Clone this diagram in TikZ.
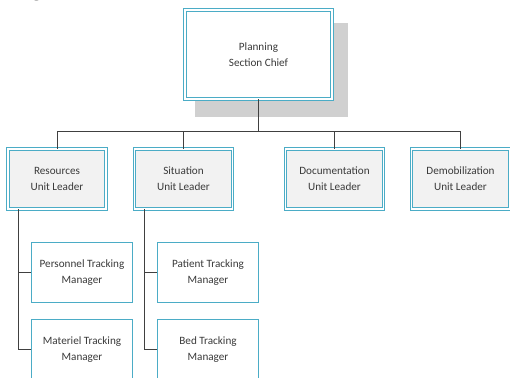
\documentclass[tikz,border=0pt]{standalone}
\usepackage{fontspec}
\setmainfont{Carlito}
\usetikzlibrary{calc,backgrounds}
\definecolor{cyanb}{HTML}{4BACC6}
\definecolor{shadowc}{HTML}{D0D0D0}
\definecolor{txt}{HTML}{3A3A3A}
\definecolor{conn}{HTML}{404040}
\tikzset{
  boxtext/.style={align=center, text=txt, font=\fontsize{11.2}{16}\selectfont, inner sep=0pt},
  dblbox/.style={boxtext, draw=cyanb, line width=0.9bp, double=white, double distance=1.4bp},
  chiefbox/.style={dblbox, fill=white, minimum width=147bp, minimum height=89bp},
  unitbox/.style={dblbox, fill=black!5, minimum width=98bp, minimum height=60bp},
  mgrbox/.style={boxtext, draw=cyanb, line width=0.9bp, fill=white, minimum width=101bp, minimum height=60bp},
  link/.style={draw=conn, line width=0.8bp}
}
\begin{document}
\begin{tikzpicture}[x=1bp,y=-1bp]
\useasboundingbox (0,0) rectangle (510,377);
% clipped heading fragment
\node[anchor=base west, inner sep=0pt, font=\sffamily\bfseries\fontsize{16}{18}\selectfont] (frag) at (32,-2.5) {g};
% chief
\node[chiefbox] (chief) at (258.5,54.5) {Planning\\Section Chief};
\begin{scope}[on background layer]
\fill[shadowc] ($(chief.north west)+(10,13)$) rectangle ($(chief.south east)+(16,18)$);
\end{scope}
% units
\node[unitbox] (res) at (57,179) {Resources\\Unit Leader};
\node[unitbox] (sit) at (183.5,179) {Situation\\Unit Leader};
\node[unitbox] (doc) at (334.5,179) {Documentation\\Unit Leader};
\node[unitbox] (demob) at (460.5,179) {Demobilization\\Unit Leader};
% managers
\node[mgrbox] (pers) at (82,272.5) {Personnel Tracking\\Manager};
\node[mgrbox] (mat) at (82,349.5) {Materiel Tracking\\Manager};
\node[mgrbox] (pat) at (208,272.5) {Patient Tracking\\Manager};
\node[mgrbox] (bed) at (208,349.5) {Bed Tracking\\Manager};
% connectors
\coordinate (bus) at (258.5,131.5);
\draw[link] (chief.south) -- (bus);
\draw[link] (bus) -| (res.north);
\draw[link] (bus) -| (sit.north);
\draw[link] (bus) -| (doc.north);
\draw[link] (bus) -| (demob.north);
\draw[link] ([xshift=11bp]res.south west) |- (pers.west);
\draw[link] ([xshift=11bp]res.south west) |- (mat.west);
\draw[link] ([xshift=10bp]sit.south west) |- (pat.west);
\draw[link] ([xshift=10bp]sit.south west) |- (bed.west);
\end{tikzpicture}
\end{document}
